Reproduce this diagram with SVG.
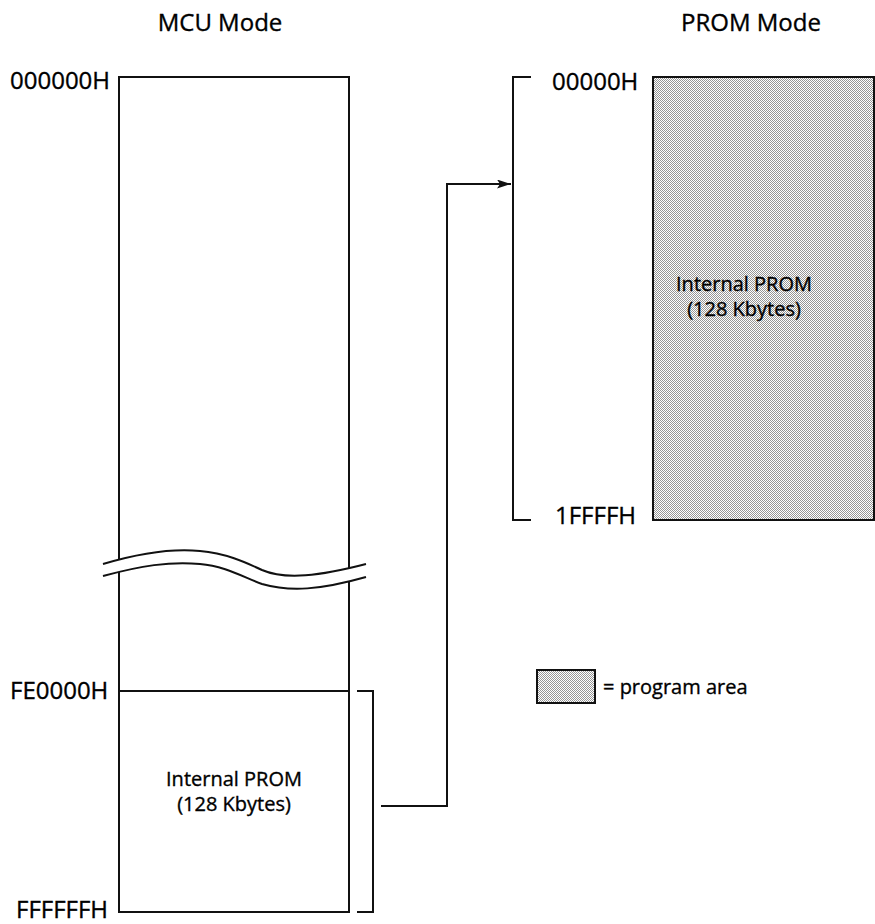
<svg xmlns="http://www.w3.org/2000/svg" width="875" height="924" viewBox="0 0 875 924">
<style>
text{font-family:"Open Sans","Noto Sans","Liberation Sans",sans-serif;fill:#000;stroke:#000;stroke-width:0.35}
.h{font-size:24px}
.a{font-size:24px}
.s{font-size:20px}
.ln{fill:none;stroke:#111;stroke-width:2}
</style>
<defs>
<pattern id="dots" width="2" height="2" patternUnits="userSpaceOnUse">
<rect width="2" height="2" fill="#ffffff"/>
<rect width="1" height="1" fill="#959595"/>
<rect x="1" y="1" width="1" height="1" fill="#959595"/>
</pattern>
<marker id="arr" viewBox="0 0 14 9" refX="14" refY="4.5" markerWidth="14" markerHeight="9" markerUnits="userSpaceOnUse" orient="auto">
<path d="M0,0 L14,4.5 L0,9 L3,4.5 Z" fill="#111"/>
</marker>
</defs>

<text class="h" x="220" y="31" text-anchor="middle">MCU Mode</text>
<text class="h" x="751" y="31" text-anchor="middle">PROM Mode</text>

<g id="mcu-map">
<rect class="ln" x="119" y="77" width="230" height="835"/>
<line class="ln" x1="119" y1="691" x2="349" y2="691"/>
<path d="M103,564 C140,553 170,548 200,551 C225,553 245,562 262,570 C285,580 320,576 366,564 L366,577 C320,590 290,592 262,584 C245,578 225,566 200,564 C170,561 140,566 103,576 Z" fill="#fff"/>
<path class="ln" d="M103,564 C140,553 170,548 200,551 C225,553 245,562 262,570 C285,580 320,576 366,564"/>
<path class="ln" d="M103,576 C140,566 170,561 200,564 C225,566 245,578 262,584 C290,592 320,590 366,577"/>
<text class="a" x="10" y="89">000000H</text>
<text class="a" x="10" y="699">FE0000H</text>
<text class="a" x="16" y="918">FFFFFFH</text>
<text class="s" x="234" y="786" text-anchor="middle">Internal PROM</text>
<text class="s" x="234" y="811" text-anchor="middle">(128 Kbytes)</text>
</g>

<g id="prom-bracket-left">
<path class="ln" d="M357,691 H373 V912 H357"/>
</g>

<g id="prom-map">
<path class="ln" d="M531,77 H513 V520 H531"/>
<rect x="653" y="77" width="221" height="443" fill="url(#dots)" stroke="#111" stroke-width="2"/>
<text class="a" x="552" y="90">00000H</text>
<text class="a" x="555" y="524">1FFFFH</text>
<text class="s" x="744" y="291" text-anchor="middle">Internal PROM</text>
<text class="s" x="744" y="316" text-anchor="middle">(128 Kbytes)</text>
</g>

<g id="connectors">
<path class="ln" d="M381,806 H447 V184 H511" marker-end="url(#arr)"/>
</g>

<g id="legend">
<rect x="537" y="670" width="58" height="33" fill="url(#dots)" stroke="#111" stroke-width="2"/>
<text class="s" x="603" y="694">= program area</text>
</g>
</svg>
